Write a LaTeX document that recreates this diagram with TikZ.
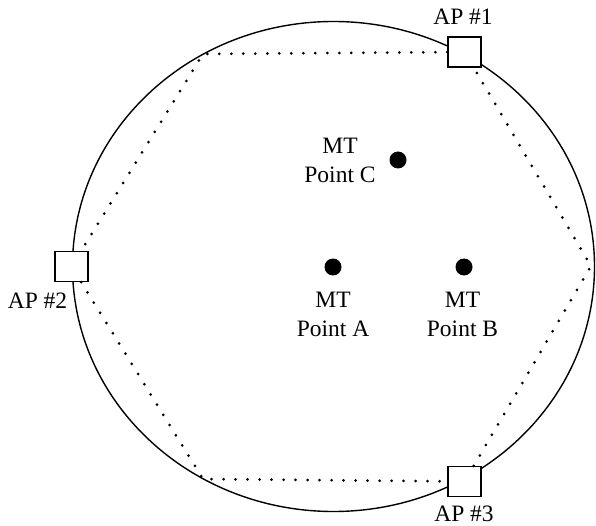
\documentclass[tikz,border=0pt]{standalone}
\usepackage{fontspec}
\setmainfont{Liberation Serif}
\begin{document}
\begin{tikzpicture}[x=1pt,y=-1pt,
  ring/.style={line width=1.4pt},
  apbox/.style={draw, line width=1.4pt, fill=white, minimum width=33pt, minimum height=30pt, inner sep=0pt},
  hexline/.style={line width=3pt, dash pattern=on 0pt off 12pt, line cap=round},
  mtdot/.style={circle, fill=black, minimum size=17pt, inner sep=0pt},
  lbl/.style={font=\fontsize{23.5}{28.5}\selectfont, inner sep=0pt, align=center}]
\useasboundingbox (0,0) rectangle (596,526);
% coverage circle
\draw[ring] (333.5,266.5) ellipse [x radius=261, y radius=245];
% access points
\node[apbox] (ap1) at (464.5,52) {};
\node[apbox] (ap2) at (71.5,266.5) {};
\node[apbox] (ap3) at (464.5,481.5) {};
% hexagon corners
\coordinate (tl) at (203,54);
\coordinate (bl) at (203,479);
\coordinate (rv) at (591,266);
\draw[hexline] (ap1) -- (tl) -- (ap2) -- (bl) -- (ap3) -- (rv) -- (ap1);
% AP labels
\node[lbl, anchor=base] (l1) at (463,25) {AP \#1};
\node[lbl, anchor=base] (l2) at (37.5,308) {AP \#2};
\node[lbl, anchor=base] (l3) at (464,521) {AP \#3};
% MT points
\node[mtdot] (pc) at (398,160) {};
\node[mtdot] (pa) at (333,267) {};
\node[mtdot] (pb) at (464,267) {};
\node[lbl, anchor=north] (lc) at (340,138) {MT\\Point C};
\node[lbl, anchor=north] (la) at (333,292) {MT\\Point A};
\node[lbl, anchor=north] (lb) at (462.5,292) {MT\\Point B};
\end{tikzpicture}
\end{document}
